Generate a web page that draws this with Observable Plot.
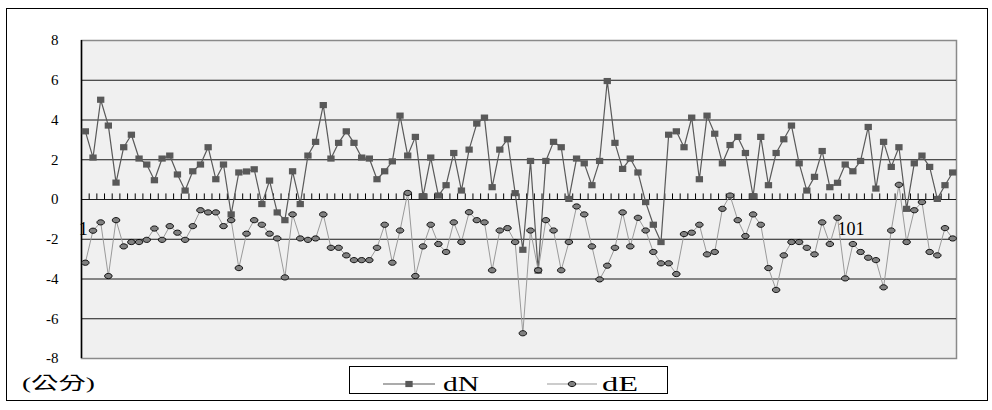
<!DOCTYPE html>
<html>
<head>
<meta charset="utf-8">
<script src="https://cdn.jsdelivr.net/npm/d3@7"></script>
<script src="https://cdn.jsdelivr.net/npm/@observablehq/plot@0.6"></script>
<style>
  html, body { margin: 0; padding: 0; background: #fff; }
  #wrap { position: relative; width: 992px; height: 410px; overflow: hidden; font-family: "Liberation Serif", "Times New Roman", serif; }
  #chart svg { display: block; }
  #border { position: absolute; left: 6px; top: 8px; width: 980px; height: 391px; border: 1px solid #000; pointer-events: none; }
  #bottom { position: absolute; left: 0; top: 362px; }
</style>
</head>
<body>
<div id="wrap">
  <div id="chart"></div>
  <svg id="bottom" width="992" height="48"></svg>
  <div id="border"></div>
</div>
<script>
// ---- data ----
const dN = [3.43, 2.11, 5.02, 3.72, 0.85, 2.63, 3.26, 2.06, 1.76, 0.97, 2.06, 2.21, 1.26, 0.45, 1.42, 1.76, 2.63, 1.02, 1.76,
  -0.75, 1.36, 1.41, 1.52, -0.23, 0.95, -0.65, -1.04, 1.42, -0.23, 2.21, 2.9, 4.75, 2.06, 2.85, 3.43, 2.85, 2.11, 2.06,
  1.02, 1.42, 1.92, 4.22, 2.21, 3.15, 0.17, 2.11, 0.2, 0.72, 2.34, 0.45, 2.51, 3.82, 4.12, 0.62, 2.51, 3.03, 0.32,
  -2.53, 1.94, -3.58, 1.94, 2.9, 2.63, 0.03, 2.06, 1.82, 0.72, 1.94, 5.96, 2.85, 1.54, 2.06, 1.36, -0.13, -1.27, -2.14,
  3.26, 3.43, 2.63, 4.12, 1.02, 4.22, 3.31, 1.82, 2.74, 3.15, 2.34, 0.17, 3.15, 0.72, 2.34, 3.03, 3.72, 1.82, 0.45,
  1.14, 2.44, 0.62, 0.84, 1.76, 1.42, 1.94, 3.65, 0.55, 2.9, 1.64, 2.63, -0.47, 1.82, 2.21, 1.64, 0.03, 0.72, 1.36];

const dE = [-3.18, -1.57, -1.15, -3.85, -1.04, -2.36, -2.14, -2.14, -2.03, -1.46, -2.03, -1.34, -1.67, -2.03, -1.34, -0.54, -0.65, -0.65, -1.34,
  -1.04, -3.45, -1.72, -1.04, -1.27, -1.72, -1.96, -3.92, -0.75, -1.96, -2.03, -1.96, -0.75, -2.43, -2.43, -2.81, -3.05, -3.05, -3.05,
  -2.43, -1.27, -3.18, -1.56, 0.33, -3.85, -2.36, -1.27, -2.24, -2.64, -1.15, -2.14, -0.64, -1.04, -1.15, -3.56, -1.56, -1.44, -2.14,
  -6.73, -1.56, -3.56, -1.04, -1.56, -3.56, -2.14, -0.35, -0.75, -2.36, -4.02, -3.33, -2.43, -0.65, -2.36, -0.92, -1.56, -2.64, -3.21,
  -3.21, -3.75, -1.74, -1.67, -1.27, -2.76, -2.64, -0.47, 0.2, -1.04, -1.84, -0.75, -1.27, -3.45, -4.55, -2.81, -2.14, -2.14, -2.43,
  -2.76, -1.15, -2.24, -0.92, -3.97, -2.24, -2.64, -2.93, -3.05, -4.42, -1.56, 0.74, -2.14, -0.54, -0.13, -2.64, -2.81, -1.44, -1.96];

const yTicks = [-8, -6, -4, -2, 0, 2, 4, 6, 8];
const xTickLabels = [{i: 1, label: "1"}, {i: 101, label: "101"}];
const seriesNames = ["dN", "dE"];
const unitLabel = "(公分)";

// ---- build ----
const N = dN.length;
const rows = d3.range(1, N + 1).map(i => ({i, dN: dN[i - 1], dE: dE[i - 1]}));
const xDomain = [0.5, N + 0.5];
const yMin = yTicks[0], yMax = yTicks[yTicks.length - 1];
const bounds = d3.range(1.5, N + 0.5, 1);

const k = 0.5523;
const ellipseSym = {
  draw(ctx, size) {
    const r = Math.sqrt(size / Math.PI), rx = r * 1.25, ry = r * 0.87;
    ctx.moveTo(rx, 0);
    ctx.bezierCurveTo(rx, k * ry, k * rx, ry, 0, ry);
    ctx.bezierCurveTo(-k * rx, ry, -rx, k * ry, -rx, 0);
    ctx.bezierCurveTo(-rx, -k * ry, -k * rx, -ry, 0, -ry);
    ctx.bezierCurveTo(k * rx, -ry, rx, -k * ry, rx, 0);
    ctx.closePath();
  }
};
const rectSym = {
  draw(ctx, size) {
    const r = Math.sqrt(size / Math.PI), w = r * 1.22, h = r * 1.03;
    ctx.rect(-w, -h, 2 * w, 2 * h);
  }
};

const chart = Plot.plot({
  width: 992,
  height: 370,
  marginLeft: 81,
  marginRight: 36,
  marginTop: 40,
  marginBottom: 12,
  style: {fontFamily: '"Liberation Serif", "Times New Roman", serif', fontSize: "15px", background: "transparent", color: "#000"},
  x: {domain: xDomain, axis: null},
  y: {domain: [yMin, yMax], axis: null},
  marks: [
    Plot.frame({fill: "#f0f0f0", stroke: "#8a8a8a", strokeWidth: 1.5}),
    Plot.ruleY(yTicks.filter(v => v > yMin && v < yMax), {stroke: "#1a1a1a", strokeWidth: 1}),
    Plot.ruleX(bounds, {y1: 0, y2: 0.28, stroke: "#000", strokeWidth: 1}),
    Plot.ruleX([xDomain[0]], {stroke: "#000", strokeWidth: 1.5}),
    Plot.axisY(yTicks, {tickSize: 0, tickPadding: 23, tickFormat: d => String(d), fontSize: 15, fill: "#000"}),
    Plot.text(xTickLabels, {x: "i", y: 0, text: "label", dy: 30, dx: -2, fontSize: 18, fill: "#000"}),
    Plot.line(rows, {x: "i", y: "dN", stroke: "#595959", strokeWidth: 1.2}),
    Plot.dot(rows, {x: "i", y: "dN", symbol: rectSym, r: 3, fill: "#595959", stroke: "none"}),
    Plot.line(rows, {x: "i", y: "dE", stroke: "#9a9a9a", strokeWidth: 1}),
    Plot.dot(rows, {x: "i", y: "dE", symbol: ellipseSym, r: 3, fill: "#808080", stroke: "#000", strokeWidth: 0.9})
  ]
});
document.getElementById("chart").appendChild(chart);

// ---- legend and unit label below the plot ----
const svg = d3.select("#bottom");
svg.append("text")
  .attr("x", 22).attr("y", 27)
  .attr("font-family", '"Liberation Serif", "Noto Sans CJK TC", serif')
  .attr("font-size", 17)
  .attr("textLength", 73).attr("lengthAdjust", "spacingAndGlyphs")
  .text(unitLabel);

const lg = svg.append("g").attr("transform", "translate(349,4)");
lg.append("rect").attr("x", 0.5).attr("y", 0.5).attr("width", 318).attr("height", 27)
  .attr("fill", "#fff").attr("stroke", "#000").attr("stroke-width", 1);
const items = [
  {name: seriesNames[0], x0: 34, x1: 86, tx: 94, stroke: "#595959", sym: rectSym, fill: "#595959", symStroke: "none"},
  {name: seriesNames[1], x0: 198, x1: 248, tx: 253, stroke: "#9a9a9a", sym: ellipseSym, fill: "#808080", symStroke: "#000"}
];
for (const it of items) {
  lg.append("line").attr("x1", it.x0).attr("x2", it.x1).attr("y1", 18).attr("y2", 18)
    .attr("stroke", it.stroke).attr("stroke-width", 1.2);
  lg.append("path").attr("d", d3.symbol(it.sym, Math.PI * 9)())
    .attr("transform", `translate(${(it.x0 + it.x1) / 2},18)`)
    .attr("fill", it.fill).attr("stroke", it.symStroke).attr("stroke-width", 0.9);
  lg.append("text").attr("x", it.tx).attr("y", 25)
    .attr("font-family", '"Liberation Serif", "Times New Roman", serif')
    .attr("font-size", 22)
    .attr("textLength", 36).attr("lengthAdjust", "spacingAndGlyphs")
    .text(it.name);
}
</script>
</body>
</html>
